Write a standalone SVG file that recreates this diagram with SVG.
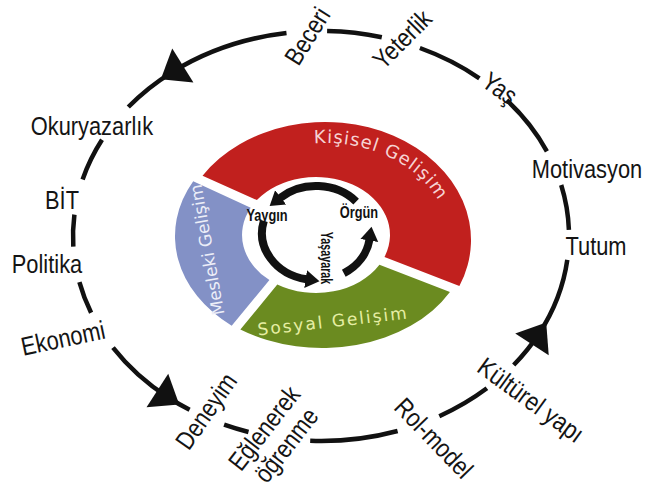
<svg xmlns="http://www.w3.org/2000/svg" width="646" height="488" viewBox="0 0 646 488">
<style>
.lbl{font-family:"Liberation Sans",Arial,sans-serif;font-size:26px;fill:#141414;text-anchor:middle;dominant-baseline:central}
.sm{font-family:"Liberation Sans",Arial,sans-serif;font-size:16px;font-weight:bold;fill:#111;text-anchor:middle;dominant-baseline:central}
.seg{font-family:"DejaVu Sans",Verdana,sans-serif}
.loop{fill:none;stroke:#111;stroke-width:4.5}
.cyc{fill:none;stroke:#111;stroke-width:8}
</style>
<defs>
<marker id="big" markerUnits="userSpaceOnUse" viewBox="-14 -21 28 42" markerWidth="28" markerHeight="42" refX="0" refY="0" orient="auto"><path d="M-13,-20 L13,0 L-13,20 Z" fill="#111"/></marker>
<marker id="small" markerUnits="userSpaceOnUse" viewBox="0 -10 15 20" markerWidth="15" markerHeight="20" refX="1" refY="0" orient="auto"><path d="M0,-9 L14,0 L0,9 Z" fill="#111"/></marker>
<path id="kpath" d="M 314.19 143.37 A 124 97 0 0 1 441.52 273.18"/>
</defs>
<rect width="646" height="488" fill="#fff"/>

<g id="connectors">
<path class="loop" marker-mid="url(#big)" d="M 286.5 33 A 248 205 0 0 0 171.8 72.3 A 248 205 0 0 0 128.3 107"/>
<path class="loop" d="M 82.6 179.5 A 248 205 0 0 1 102 139.8"/>
<path class="loop" d="M 73.3 246.7 A 248 205 0 0 1 74.4 214.6"/>
<path class="loop" d="M 91.1 312.8 A 248 205 0 0 1 79.4 282.1"/>
<path class="loop" marker-mid="url(#big)" d="M 113 347.6 A 248 205 0 0 0 168.3 397.5 A 248 205 0 0 0 189.6 409.8"/>
<path class="loop" d="M 248.5 432 A 248 205 0 0 1 224.1 424.7"/>
<path class="loop" d="M 397.6 431 A 248 205 0 0 1 310.2 440.8"/>
<path class="loop" d="M 486.9 388.3 A 248 205 0 0 1 439.3 416.2"/>
<path class="loop" marker-mid="url(#big)" d="M 513.7 365 A 248 205 0 0 0 539.1 333.5 A 248 205 0 0 0 567.3 259.9"/>
<path class="loop" d="M 561.2 185 A 248 205 0 0 1 568.9 229.9"/>
<path class="loop" d="M 506.8 100.2 A 248 205 0 0 1 546.9 151.3"/>
<path class="loop" d="M 419.9 48 A 248 205 0 0 1 479.4 78.3"/>
<path class="loop" d="M 327.1 31.1 A 248 205 0 0 1 381.8 37.3"/>
</g>

<g id="kisisel">
<path d="M 202.55 175.73 A 146 118 0 0 1 459.39 286.11 L 384.49 256.96 A 74 58 0 0 0 256.9 200.1 Z" fill="#c1201e"/>
<text class="seg" font-size="18" fill="#f6d3d3" letter-spacing="1"><textPath href="#kpath">Kişisel Gelişim</textPath></text>
</g>
<g id="mesleki">
<path d="M 193.2 181.2 A 145 113 0 0 0 231.7 325.65 L 269.43 280.07 A 74 58 0 0 1 250.7 207.8 Z" fill="#8391c6"/>
<text class="seg" font-size="17" fill="#eceef8" text-anchor="middle" dominant-baseline="central" transform="translate(207,250) rotate(-100)">Mesleki Gelişim</text>
</g>
<g id="sosyal">
<path d="M 240.36 329.54 A 146 108 0 0 0 449.94 292.03 L 379.43 264.87 A 74 58 0 0 1 277.3 284.45 Z" fill="#6b8b20"/>
<text class="seg" font-size="17" fill="#e6eea4" letter-spacing="2" text-anchor="middle" dominant-baseline="central" transform="translate(333,321) rotate(-6.5)">Sosyal Gelişim</text>
</g>

<g id="cycle">
<path class="cyc" marker-end="url(#small)" d="M 356.13 201.55 A 54 47 0 0 0 279.87 198.07"/>
<path class="cyc" marker-end="url(#small)" d="M 263.84 220.84 A 54 47 0 0 0 306.62 279.29"/>
<path class="cyc" marker-end="url(#small)" d="M 343.81 273.29 A 54 47 0 0 0 369.47 239.54"/>
</g>
<g id="yaygin"><text class="sm" transform="translate(267,215) scale(0.8,1)">Yaygın</text></g>
<g id="orgun"><text class="sm" transform="translate(359,212) scale(0.8,1)">Örgün</text></g>
<g id="yasayarak"><text class="sm" transform="translate(326,258) rotate(90) scale(0.67,1)">Yaşayarak</text></g>

<g id="okuryazarlik"><text class="lbl" transform="translate(92,126) scale(0.84,1)">Okuryazarlık</text></g>
<g id="bit"><text class="lbl" transform="translate(62,200) scale(0.84,1)">BİT</text></g>
<g id="politika"><text class="lbl" transform="translate(47,264) scale(0.84,1)">Politika</text></g>
<g id="ekonomi"><text class="lbl" transform="translate(63,338) rotate(-12) scale(0.84,1)">Ekonomi</text></g>
<g id="deneyim"><text class="lbl" transform="translate(206,411) rotate(-55) scale(0.84,1)">Deneyim</text></g>
<g id="eglenerek"><text class="lbl" transform="translate(264,428) rotate(-52) scale(0.84,1)">Eğlenerek</text><text class="lbl" transform="translate(286,445) rotate(-52) scale(0.84,1)">öğrenme</text></g>
<g id="rolmodel"><text class="lbl" transform="translate(434,438) rotate(46) scale(0.84,1)">Rol-model</text></g>
<g id="kulturel"><text class="lbl" transform="translate(531,400) rotate(36) scale(0.86,1)">Kültürel yapı</text></g>
<g id="tutum"><text class="lbl" transform="translate(596,246) scale(0.84,1)">Tutum</text></g>
<g id="motivasyon"><text class="lbl" transform="translate(587,169) scale(0.84,1)">Motivasyon</text></g>
<g id="yas"><text class="lbl" transform="translate(500,88) rotate(35) scale(0.84,1)">Yaş</text></g>
<g id="yeterlik"><text class="lbl" transform="translate(402,39) rotate(-45) scale(0.84,1)">Yeterlik</text></g>
<g id="beceri"><text class="lbl" transform="translate(307,36) rotate(-58) scale(0.84,1)">Beceri</text></g>
</svg>
